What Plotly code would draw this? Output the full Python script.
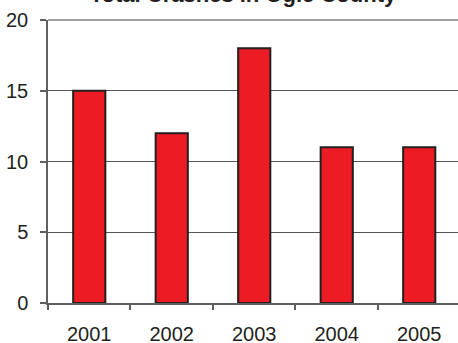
import plotly.graph_objects as go

years = ["2001", "2002", "2003", "2004", "2005"]
crashes = [15, 12, 18, 11, 11]
y_ticks = [0, 5, 10, 15, 20]
title_text = "Total Crashes in Ogle County"

fig = go.Figure(go.Bar(
    x=years, y=crashes, width=0.39,
    marker=dict(color="#ED1C24", line=dict(color="#231F20", width=2)),
))

fig.update_layout(
    width=458, height=343,
    margin=dict(l=48, r=0, t=20, b=40, autoexpand=False),
    paper_bgcolor="white", plot_bgcolor="white",
    showlegend=False,
    font=dict(family="Liberation Sans, Arial", size=20, color="#231F20"),
    title=dict(text="<b>" + title_text + "</b>", font=dict(size=22, color="#231F20"),
               x=243 / 458, xanchor="center", xref="container",
               y=1 - 2 / 343, yanchor="bottom", yref="container"),
    shapes=[dict(type="line", xref="paper", yref="paper", x0=0, x1=1, y0=1, y1=1,
                 line=dict(color="#A0A0A0", width=2), layer="above")],
)
fig.update_xaxes(
    type="category", range=[-0.5, 4.47], automargin=False,
    showline=True, linecolor="#606060", linewidth=1.5,
    ticks="outside", tickson="boundaries", ticklen=5, tickcolor="#606060", tickwidth=1.5,
    ticklabelstandoff=12, showgrid=False,
)
fig.update_yaxes(
    range=[0, 20], tickvals=y_ticks, automargin=False,
    showline=True, linecolor="#606060", linewidth=1.5,
    ticks="outside", ticklen=6, tickcolor="#606060", tickwidth=1.5,
    ticklabelstandoff=8,
    showgrid=True, gridcolor="#555555", gridwidth=1, zeroline=False,
)

fig.write_html("out.html")
